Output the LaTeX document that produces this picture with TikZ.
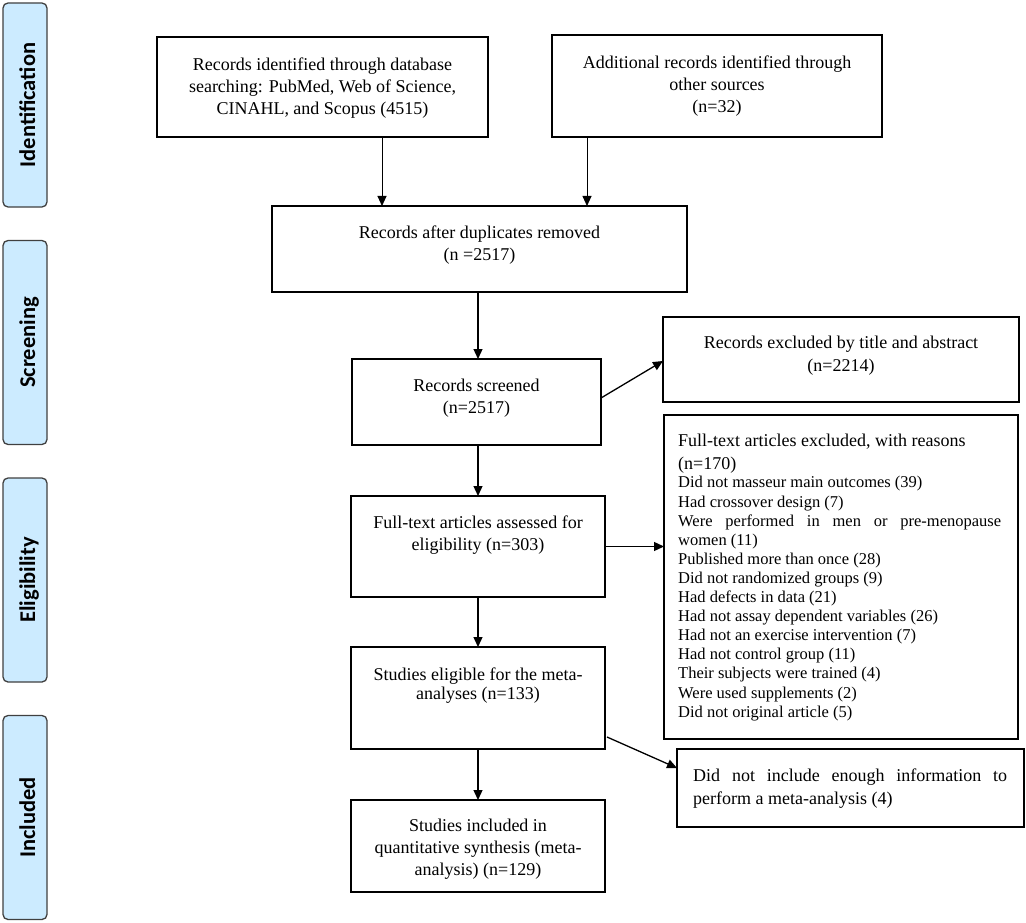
\documentclass[tikz,border=0pt]{standalone}
\usepackage{fontspec}
\setmainfont{Liberation Serif}
\newfontfamily\phasefont{Carlito}
\usetikzlibrary{arrows.meta}
\definecolor{phasefill}{HTML}{CCEBFF}
\definecolor{phaseline}{HTML}{404040}
\tikzset{
  box/.style={draw, line width=1.3pt, inner sep=0pt, outer sep=0pt, anchor=north west},
  txt/.style={inner sep=0pt, font=\fontsize{18}{22}\selectfont, align=center, anchor=north},
  ltxt/.style={inner sep=0pt, align=left, anchor=north west},
  phase/.style={draw=phaseline, fill=phasefill, line width=1.3pt, rounded corners=5pt,
    rotate=90, minimum width=204pt, minimum height=44pt, inner sep=0pt,
    font=\phasefont\bfseries\fontsize{22.5}{27}\selectfont, text height=20pt, text depth=0pt},
  arr/.style={line width=1.3pt, -{Triangle[length=10pt,width=9pt]}},
  tharr/.style={line width=0.9pt, -{Triangle[length=10pt,width=9pt]}}
}
\begin{document}
\begin{tikzpicture}[x=1pt,y=-1pt]
\useasboundingbox (0,0) rectangle (1026,923);
% phase labels
\node[phase] (pid) at (25,105) {Identification};
\node[phase] (psc) at (25,342.5) {Screening};
\node[phase] (pel) at (25,580) {Eligibility};
\node[phase] (pin) at (25,817.5) {Included};
% boxes
\node[box, minimum width=331pt, minimum height=100pt] (b1) at (157,37) {};
\node[box, minimum width=330pt, minimum height=102pt] (b2) at (552,35) {};
\node[box, minimum width=415pt, minimum height=86pt] (b3) at (272,206) {};
\node[box, minimum width=249pt, minimum height=86pt] (b4) at (352,359) {};
\node[box, minimum width=254pt, minimum height=101pt] (b5) at (351,496) {};
\node[box, minimum width=254pt, minimum height=102pt] (b6) at (351,647) {};
\node[box, minimum width=254pt, minimum height=92pt] (b7) at (351,800) {};
\node[box, minimum width=356pt, minimum height=85pt] (ex1) at (663,317) {};
\node[box, minimum width=354pt, minimum height=324pt] (ex2) at (664,415) {};
\node[box, minimum width=347pt, minimum height=78pt] (ex3) at (677,749) {};
% texts
\node[txt] (t1) at ([yshift=-20.5pt]b1.north) {Records identified through database\\searching: PubMed, Web of Science,\\CINAHL, and Scopus (4515)};
\node[txt] (t2) at ([yshift=-20.5pt]b2.north) {Additional records identified through\\other sources\\(n=32)};
\node[txt] (t3) at ([yshift=-19.5pt]b3.north) {Records after duplicates removed\\(n =2517)};
\node[txt] (t4) at ([yshift=-19.5pt]b4.north) {Records screened\\(n=2517)};
\node[txt] (t5) at ([yshift=-19.5pt]b5.north) {Full-text articles assessed for\\eligibility (n=303)};
\node[txt, font=\fontsize{18}{19}\selectfont] (t6) at ([yshift=-20.5pt]b6.north) {Studies eligible for the meta-\\analyses (n=133)};
\node[txt] (t7) at ([yshift=-18.5pt]b7.north) {Studies included in\\quantitative synthesis (meta-\\analysis) (n=129)};
\node[txt, font=\fontsize{18}{23}\selectfont] (tx1) at ([yshift=-18.5pt]ex1.north) {Records excluded by title and abstract\\(n=2214)};
\node[ltxt, font=\fontsize{18}{23}\selectfont] (tx2h) at (678,433.5) {Full-text articles excluded, with reasons\\(n=170)};
\node[ltxt, font=\fontsize{16.5}{19.1}\selectfont] (tx2l) at (678,476.3) {Did not masseur main outcomes (39)\\
Had crossover design (7)\\
\makebox[323pt][s]{Were performed in men or pre-menopause}\\
women (11)\\
Published more than once (28)\\
Did not randomized groups (9)\\
Had defects in data (21)\\
Had not assay dependent variables (26)\\
Had not an exercise intervention (7)\\
Had not control group (11)\\
Their subjects were trained (4)\\
Were used supplements (2)\\
Did not original article (5)};
\node[ltxt, font=\fontsize{18}{23}\selectfont] (tx3) at (693,768.5) {\makebox[314pt][s]{Did not include enough information to}\\perform a meta-analysis (4)};
% connectors
\draw[tharr] ([xshift=59.5pt]b1.south) -- ([xshift=59.5pt]b1.south |- b3.north);
\draw[tharr] ([xshift=-130pt]b2.south) -- ([xshift=-130pt]b2.south |- b3.north);
\draw[arr] ([xshift=-1.5pt]b3.south) -- ([xshift=-1.5pt]b3.south |- b4.north);
\draw[arr] ([yshift=4pt]b4.east) -- ([yshift=-1.5pt]ex1.west);
\draw[arr] (b4.south -| b5.north) -- (b5.north);
\draw[arr] (b5.east) -- (b5.east -| ex2.west);
\draw[arr] (b5.south) -- (b6.north);
\draw[arr] ([xshift=2pt,yshift=12pt]b6.south east) -- ([yshift=20pt]ex3.west);
\draw[arr] (b6.south) -- (b7.north);
\end{tikzpicture}
\end{document}
